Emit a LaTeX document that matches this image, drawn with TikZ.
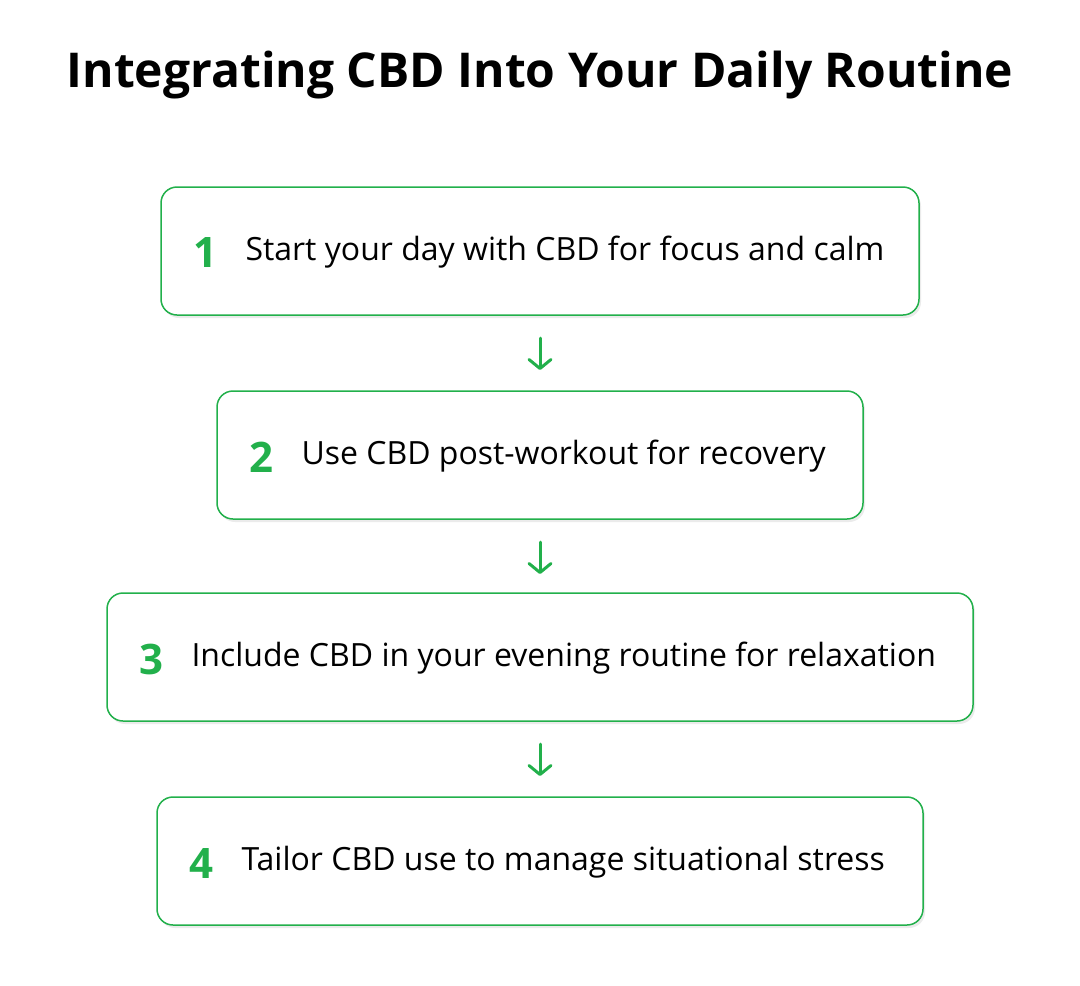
\documentclass[tikz,border=0pt]{standalone}
\usepackage{fontspec}
\usetikzlibrary{arrows.meta}
\setmainfont{Open Sans}
\definecolor{gr}{HTML}{22B04B}
\begin{document}
\begin{tikzpicture}[x=1pt,y=-1pt,
  box/.style={draw=gr,line width=1.5pt,rounded corners=16pt,fill=white},
  num/.style={text=gr,font=\fontsize{42}{46}\selectfont\bfseries,anchor=center},
  lbl/.style={font=\fontsize{32}{36}\selectfont,anchor=west,text=black},
  arr/.style={draw=gr,line width=3pt,line cap=round,-{Straight Barb[length=9pt,width=22pt,round]}}]
\useasboundingbox (0,0) rectangle (1080,986);
\node[font=\fontsize{48}{54}\selectfont\bfseries] (title) at (540,75) {Integrating CBD Into Your Daily Routine};
\foreach \i/\l/\r/\t/\txt in {1/161/919/187/Start your day with CBD for focus and calm,
  2/217/863/391/Use CBD post-workout for recovery,
  3/107/973/593/Include CBD in your evening routine for relaxation,
  4/157/923/797/Tailor CBD use to manage situational stress}{
  \fill[black!8,rounded corners=16pt] (\l+2,\t+3) rectangle (\r+2,\t+131);
  \draw[box] (\l,\t) rectangle (\r,\t+128);
  \node[num] (n\i) at (\l+44,\t+66) {\i};
  \node[lbl] (t\i) at (\l+81,\t+65) {\txt};
}
\coordinate (a1s) at (540,338); \coordinate (a1e) at (540,370);
\coordinate (a2s) at (540,542); \coordinate (a2e) at (540,574);
\coordinate (a3s) at (540,744); \coordinate (a3e) at (540,776);
\draw[arr] (a1s) -- (a1e);
\draw[arr] (a2s) -- (a2e);
\draw[arr] (a3s) -- (a3e);
\end{tikzpicture}
\end{document}
